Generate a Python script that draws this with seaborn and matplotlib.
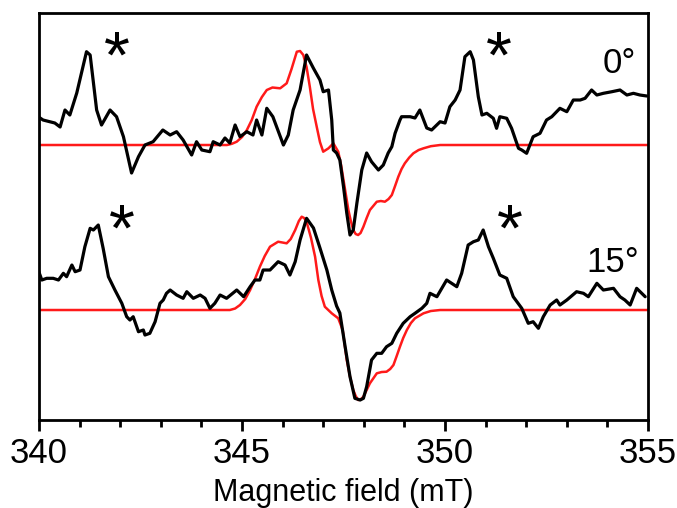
import numpy as np
import pandas as pd
import matplotlib
matplotlib.use("Agg")
import matplotlib.pyplot as plt
import seaborn as sns

# ---- data (field in mT, signal in arbitrary units) ----
field_exp_0 = [339.98, 340.10, 340.39, 340.52, 340.64, 340.76, 340.93, 341.17, 341.26, 341.42,
               341.54, 341.75, 341.91, 342.08, 342.28, 342.45, 342.61, 342.81, 343.05, 343.23,
               343.39, 343.55, 343.76, 343.88, 344.01, 344.21, 344.29, 344.46, 344.58, 344.70,
               344.83, 344.95, 345.12, 345.27, 345.36, 345.49, 345.61, 345.76, 346.02, 346.14,
               346.26, 346.43, 346.59, 346.76, 346.92, 347.00, 347.13, 347.21, 347.25, 347.33,
               347.41, 347.50, 347.58, 347.66, 347.74, 347.83, 347.95, 348.07, 348.19, 348.36,
               348.48, 348.60, 348.69, 348.77, 348.89, 348.93, 349.14, 349.26, 349.38, 349.55,
               349.67, 349.88, 350.00, 350.12, 350.25, 350.37, 350.49, 350.62, 350.70, 350.82,
               350.91, 351.03, 351.19, 351.27, 351.35, 351.52, 351.64, 351.81, 351.89, 352.01,
               352.17, 352.34, 352.50, 352.63, 352.83, 353.00, 353.16, 353.33, 353.45, 353.61,
               353.74, 353.90, 354.11, 354.31, 354.48, 354.64, 354.80, 354.97]
signal_exp_0 = [28.3, 25, 22, 18, 35, 30, 52, 93.3, 90, 35,
                20, 35, 28.3, 8.3, -28, -11.7, 0, 3.3, 15, 10,
                13.3, 5, -10, 3.3, -5, -6.7, 3.3, 0, 7, 2,
                20, 8.3, 13.3, 10, 25, 10, 36.7, 28.3, 0, 10,
                35, 55, 90, 76.7, 65, 53.3, 55, 25, -5, -8,
                -15, -41.7, -68, -90, -85, -58, -25, -8, -16.7, -25,
                -20, -8, -1.7, 11.7, 25, 28.3, 28.3, 27, 35, 17,
                15, 23.3, 22, 38.3, 45, 55, 88.3, 93.3, 85, 48.3,
                30, 31.7, 26.7, 16.7, 28.3, 26.7, 16.7, -3.3, -5, -8.3,
                8.3, 11.7, 25, 28.3, 36.7, 33.3, 45, 45, 46.7, 55,
                50, 51.7, 53.3, 55, 50, 51.7, 50, 49]

field_sim_0 = [340.00, 344.63, 344.75, 344.87, 345.00, 345.12, 345.24, 345.36, 345.49, 345.61,
               345.75, 345.94, 346.10, 346.22, 346.35, 346.43, 346.51, 346.59, 346.67, 346.75,
               346.84, 346.92, 347.00, 347.13, 347.25, 347.37, 347.44, 347.50, 347.56, 347.62,
               347.68, 347.74, 347.80, 347.86, 347.92, 347.99, 348.07, 348.15, 348.32, 348.42,
               348.52, 348.61, 348.69, 348.77, 348.85, 348.93, 349.01, 349.12, 349.22, 349.35,
               349.47, 349.65, 349.88, 355.00]
signal_sim_0 = [0, 0, 1.2, 3.3, 8, 15, 25, 38.3, 48, 55,
                57.5, 56.7, 61.7, 76, 93.3, 94, 90, 78, 58.3, 36,
                18.3, 3, -6.7, -3.3, 1.7, -6.7, -20, -35, -50, -65,
                -76, -85, -89, -90, -88, -81.7, -73, -65, -56.7, -56,
                -56.7, -54, -50, -41, -31.7, -24, -18.3, -12.5, -8.3, -5,
                -3.3, -1.2, 0, 0]

field_exp_15 = [339.98, 340.07, 340.19, 340.35, 340.48, 340.60, 340.68, 340.81, 340.89, 341.01,
                341.13, 341.26, 341.34, 341.46, 341.58, 341.71, 341.87, 342.04, 342.16, 342.24,
                342.32, 342.45, 342.57, 342.61, 342.73, 342.86, 342.98, 343.06, 343.14, 343.23,
                343.39, 343.55, 343.64, 343.80, 343.97, 344.09, 344.21, 344.33, 344.46, 344.62,
                344.87, 345.04, 345.20, 345.32, 345.44, 345.52, 345.69, 345.89, 346.06, 346.18,
                346.31, 346.43, 346.59, 346.76, 346.92, 347.09, 347.21, 347.33, 347.41, 347.54,
                347.66, 347.78, 347.91, 347.99, 348.07, 348.19, 348.32, 348.44, 348.56, 348.69,
                348.81, 348.97, 349.14, 349.26, 349.43, 349.55, 349.63, 349.80, 350.04, 350.29,
                350.41, 350.57, 350.70, 350.82, 350.94, 351.07, 351.19, 351.35, 351.52, 351.68,
                351.89, 352.05, 352.17, 352.30, 352.42, 352.59, 352.75, 352.83, 353.00, 353.24,
                353.41, 353.53, 353.74, 353.90, 354.15, 354.31, 354.43, 354.56, 354.72, 354.93]
signal_exp_15 = [40, 30, 31.7, 31.7, 30, 36.7, 33.3, 45, 38.3, 40,
                 63.3, 81.7, 80, 85, 61.7, 33.3, 20, 6.7, -6.7, -10,
                 -6.7, -21.7, -20, -25, -23.3, -11.7, 6.7, 10, 16.7, 20,
                 15, 11.7, 18.3, 11.7, 15, 11.7, 1.7, 6.7, 15, 11.7,
                 20, 13.3, 23.3, 30, 30, 40, 40, 48.3, 45, 35,
                 48.3, 70, 91.7, 82, 62, 40, 20, 4, -3, -36.7,
                 -66.7, -88.3, -90, -88.3, -76.7, -50, -43.3, -43.3, -36.7, -33.3,
                 -23.3, -13.3, -6.7, -3.3, 1.7, 6.7, 16.7, 13.3, 30, 23.3,
                 36.7, 65, 68.3, 70, 80, 63.3, 51.7, 35, 31.7, 13.3,
                 1.7, -13.3, -11.7, -18.3, -6.7, 5, 10, 5, 10, 18.3,
                 16.7, 13.3, 26.7, 20, 21.7, 13.3, 10, 5, 21.7, 13.3]

field_sim_15 = [340.00, 344.70, 344.83, 344.95, 345.08, 345.20, 345.32, 345.44, 345.56, 345.69,
                345.89, 346.10, 346.20, 346.31, 346.40, 346.47, 346.53, 346.59, 346.70, 346.80,
                346.88, 346.96, 347.04, 347.21, 347.37, 347.48, 347.58, 347.66, 347.74, 347.80,
                347.86, 347.92, 347.99, 348.07, 348.15, 348.32, 348.44, 348.56, 348.65, 348.73,
                348.81, 348.89, 348.97, 349.06, 349.16, 349.26, 349.47, 349.65, 349.88, 355.00]
signal_sim_15 = [0, 0, 1.5, 5, 11, 20, 31, 43.3, 54, 63.3,
                 68.3, 66.7, 71, 80, 89, 93.3, 92, 88.3, 72, 53.3,
                 30, 14, 3.3, -3.3, -8.3, -20, -50, -66.7, -80, -86,
                 -90, -89.5, -86.7, -80, -73.3, -63.3, -62, -61.7, -59, -55,
                 -46, -36.7, -28, -20, -13, -8.3, -3.3, -1, 0, 0]

offset_0 = 165        # vertical offset of the 0° pair
angle_labels = ["0°", "15°"]
star_fields_0 = [341.92, 351.33]
star_fields_15 = [342.04, 351.60]

# ---- style ----
sns.set_style("ticks")
plt.rcParams["font.family"] = ["Liberation Sans", "DejaVu Sans"]
plt.rcParams["axes.linewidth"] = 2.0
plt.rcParams["text.color"] = "black"
plt.rcParams["axes.labelcolor"] = "black"
plt.rcParams["xtick.color"] = "black"

fig = plt.figure(figsize=(6.77, 5.08), dpi=100)
ax = fig.add_axes([0.0576, 0.1732, 0.8996, 0.8012])

def df(x, y, off=0):
    return pd.DataFrame({"field": x, "signal": np.asarray(y, float) + off})

kw_sim = dict(color="#ff1a1a", linewidth=1.8, estimator=None, sort=False, ax=ax)
kw_exp = dict(color="black", linewidth=2.3, estimator=None, sort=False, ax=ax)

sns.lineplot(data=df(field_sim_0, signal_sim_0, offset_0), x="field", y="signal", **kw_sim)
sns.lineplot(data=df(field_exp_0, signal_exp_0, offset_0), x="field", y="signal", **kw_exp)
sns.lineplot(data=df(field_sim_15, signal_sim_15), x="field", y="signal", **kw_sim)
sns.lineplot(data=df(field_exp_15, signal_exp_15), x="field", y="signal", **kw_exp)

ax.set_xlim(340, 355)
ax.set_ylim(-110, 297)
ax.set_xticks([340, 345, 350, 355])
ax.set_xticks(np.arange(340, 356, 1), minor=True)
ax.set_yticks([])
ax.tick_params(axis="x", which="major", direction="out", length=8, width=2,
               labelsize=25, pad=4, colors="black")
ax.tick_params(axis="x", which="minor", direction="out", length=5, width=2)
ax.set_xlabel("Magnetic field (mT)", fontsize=22, labelpad=6)
ax.set_ylabel("")
for s in ax.spines.values():
    s.set_visible(True)
    s.set_color("black")

# annotations
for fx in star_fields_0:
    ax.text(fx, 232, "*", fontsize=48, ha="center", va="baseline", color="black")
for fx in star_fields_15:
    ax.text(fx, 59, "*", fontsize=48, ha="center", va="baseline", color="black")
ax.text(354.7, 247, angle_labels[0], fontsize=25, ha="right", va="center")
ax.text(354.78, 48, angle_labels[1], fontsize=25, ha="right", va="center")

fig.savefig("out.png", dpi=100)
